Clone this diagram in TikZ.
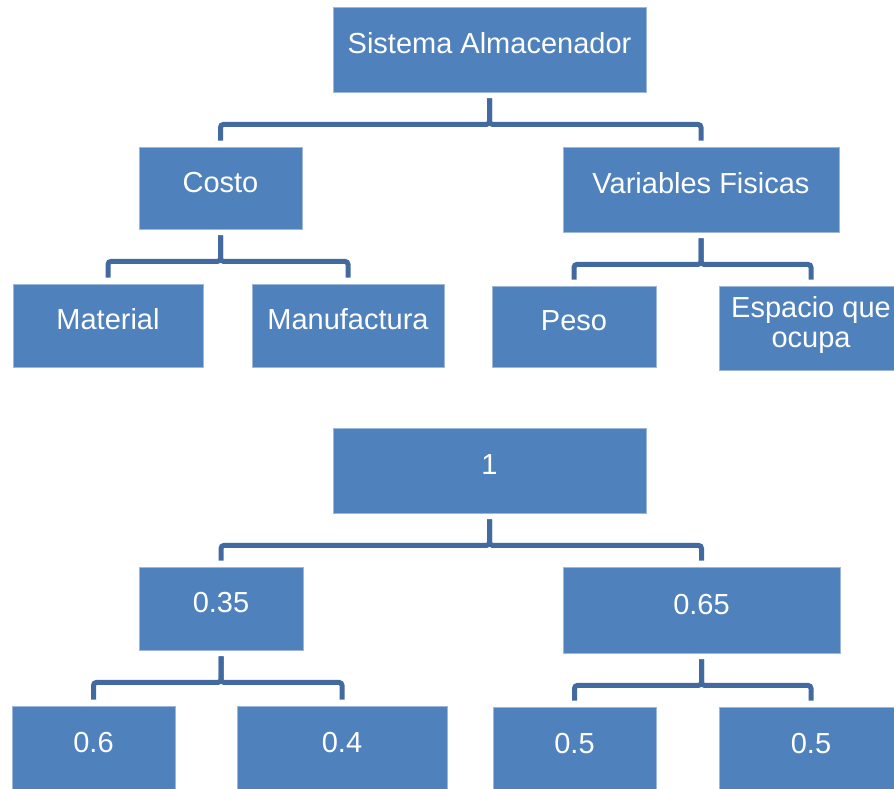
\documentclass[tikz,border=0pt]{standalone}
\usepackage{fontspec}
\setmainfont{Liberation Sans}
\begin{document}
\begin{tikzpicture}[x=1pt,y=-1pt,
    cajabase/.style={fill=r79g129b189, draw=r157g183b217, line width=0.8pt, text=white,
      inner sep=0pt, align=center, font=\fontsize{29}{30}\selectfont},
    caja/.style={cajabase, text height=21pt, text depth=13pt},
    conector/.style={draw=r67g106b160, line width=5pt, rounded corners=3pt,
      shorten <=6pt, shorten >=6pt}]
% \clip (0,0) rectangle (894,789);
\useasboundingbox (0,0) rectangle (894,789);%
\clip (0,0) rectangle (894,789);%

% Changing color 79 129 189
\definecolor{r79g129b189}{RGB}{79,129,189}%
\definecolor{r157g183b217}{RGB}{157,183,217}%
\definecolor{r67g106b160}{RGB}{67,106,160}%

% Drawing tree of names
\node[caja, minimum width=313pt, minimum height=85pt] (raiz) at (489.5,49.5) {Sistema Almacenador};%
\node[caja, minimum width=163pt, minimum height=82pt] (costo) at (220.5,188) {Costo};%
\node[caja, minimum width=276pt, minimum height=85pt] (varfis) at (701,189.5) {Variables Fisicas};%
\node[caja, minimum width=190pt, minimum height=83pt] (material) at (108,325.5) {Material};%
\node[caja, minimum width=192pt, minimum height=83pt] (manuf) at (348,325.5) {Manufactura};%
\node[caja, minimum width=164pt, minimum height=81pt] (peso) at (574,326.5) {Peso};%
\node[cajabase, minimum width=184pt, minimum height=84pt] (espacio) at (811,328) {Espacio que\\ocupa\rule[-12pt]{0pt}{12pt}};%

% Drawing tree of weights
\node[caja, minimum width=313pt, minimum height=85pt] (uno) at (489.5,470.5) {1};%
\node[caja, minimum width=164pt, minimum height=83pt] (pcosto) at (221,608.5) {0.35};%
\node[caja, minimum width=277pt, minimum height=86pt] (pvarfis) at (701.5,610) {0.65};%
\node[caja, minimum width=163pt, minimum height=85pt] (pmaterial) at (93.5,748.5) {0.6};%
\node[caja, minimum width=210pt, minimum height=85pt] (pmanuf) at (342,748.5) {0.4};%
\node[caja, minimum width=163pt, minimum height=84pt] (ppeso) at (574.5,749) {0.5};%
\node[caja, minimum width=184pt, minimum height=84pt] (pespacio) at (811,749) {0.5};%

% Drawing connectors
\foreach \padre/\hijo in {raiz/costo, raiz/varfis, costo/material, costo/manuf,
    varfis/peso, varfis/espacio, uno/pcosto, uno/pvarfis, pcosto/pmaterial,
    pcosto/pmanuf, pvarfis/ppeso, pvarfis/pespacio}
  \draw[conector] (\padre.south) -- ++(0,32) -| (\hijo.north);%
\end{tikzpicture}
\end{document}
